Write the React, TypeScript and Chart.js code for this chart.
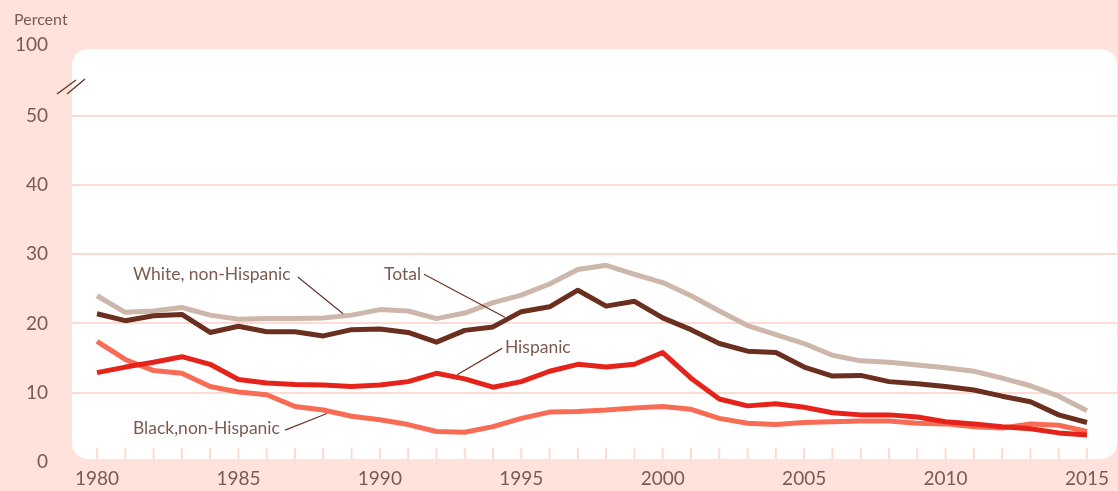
import React, { useEffect, useRef } from "react";
import { Chart, registerables } from "chart.js";

Chart.register(...registerables);

const years = [
  1980, 1981, 1982, 1983, 1984, 1985, 1986, 1987, 1988, 1989, 1990, 1991,
  1992, 1993, 1994, 1995, 1996, 1997, 1998, 1999, 2000, 2001, 2002, 2003,
  2004, 2005, 2006, 2007, 2008, 2009, 2010, 2011, 2012, 2013, 2014, 2015,
];

const whiteNonHispanic = [
  24.0, 21.6, 21.8, 22.3, 21.2, 20.6, 20.7, 20.7, 20.8, 21.2, 22.0, 21.8,
  20.7, 21.5, 23.0, 24.1, 25.7, 27.8, 28.4, 27.1, 25.9, 24.0, 21.8, 19.7,
  18.4, 17.1, 15.4, 14.6, 14.4, 14.0, 13.6, 13.1, 12.1, 11.0, 9.5, 7.4,
];

const total = [
  21.4, 20.4, 21.1, 21.3, 18.7, 19.6, 18.8, 18.8, 18.2, 19.1, 19.2, 18.7,
  17.3, 19.0, 19.5, 21.7, 22.4, 24.8, 22.5, 23.2, 20.8, 19.1, 17.1, 16.0,
  15.8, 13.7, 12.4, 12.5, 11.6, 11.3, 10.9, 10.4, 9.5, 8.7, 6.8, 5.7,
];

const hispanic = [
  12.9, 13.7, 14.4, 15.2, 14.1, 11.9, 11.4, 11.2, 11.1, 10.9, 11.1, 11.6,
  12.8, 12.0, 10.8, 11.6, 13.1, 14.1, 13.7, 14.1, 15.8, 12.1, 9.1, 8.1,
  8.4, 7.9, 7.1, 6.8, 6.8, 6.5, 5.8, 5.5, 5.1, 4.8, 4.2, 3.9,
];

const blackNonHispanic = [
  17.4, 14.8, 13.2, 12.8, 10.9, 10.1, 9.7, 8.0, 7.5, 6.6, 6.1, 5.4,
  4.4, 4.3, 5.1, 6.3, 7.2, 7.3, 7.5, 7.8, 8.0, 7.6, 6.3, 5.6,
  5.4, 5.7, 5.8, 5.9, 5.9, 5.6, 5.5, 5.1, 4.9, 5.5, 5.3, 4.4,
];

const yTicks = [0, 10, 20, 30, 40, 50, 60.2];
const yTickLabels = ["0", "10", "20", "30", "40", "50", "100"];
const xLabelYears = [1980, 1985, 1990, 1995, 2000, 2005, 2010, 2015];

// annotation labels: [text, textYear, textValue, lineFromYear, lineFromValue, lineToYear, lineToValue]
const annotations: [string, number, number, number, number, number, number][] = [
  ["White, non-Hispanic", 1981.27, 27.1, 1987.1, 26.7, 1988.7, 21.4],
  ["Total", 1990.15, 27.1, 1991.56, 27.1, 1994.42, 20.9],
  ["Hispanic", 1994.42, 16.5, 1994.32, 16.4, 1992.73, 12.6],
  ["Black,non-Hispanic", 1981.27, 4.9, 1986.65, 4.6, 1988.13, 7.0],
];

const PINK = "#fee2db";
const GRID = "#fddbd2";
const TEXT = "#7d5a50";
const LEADER = "#6b3426";
const FONT = "Lato, 'Open Sans', sans-serif";

export default function App() {
  const ref = useRef<HTMLCanvasElement | null>(null);

  useEffect(() => {
    if (!ref.current) return;
    const decor = {
      id: "decor",
      beforeDraw(chart: any) {
        const { ctx, chartArea, scales } = chart;
        ctx.save();
        ctx.fillStyle = PINK;
        ctx.fillRect(0, 0, chart.width, chart.height);
        const top = scales.y.getPixelForValue(59.6);
        ctx.fillStyle = "#ffffff";
        ctx.beginPath();
        (ctx as any).roundRect(
          chartArea.left,
          top,
          chartArea.right - chartArea.left,
          chartArea.bottom - top,
          16
        );
        ctx.fill();
        ctx.restore();
      },
      beforeDatasetsDraw(chart: any) {
        const { ctx, chartArea, scales } = chart;
        ctx.save();
        ctx.strokeStyle = GRID;
        ctx.lineWidth = 2;
        years.forEach((yr) => {
          const x = scales.x.getPixelForValue(yr);
          ctx.beginPath();
          ctx.moveTo(x, chartArea.bottom - 11);
          ctx.lineTo(x, chartArea.bottom);
          ctx.stroke();
        });
        ctx.restore();
      },
      afterDatasetsDraw(chart: any) {
        const { ctx, chartArea, scales } = chart;
        ctx.save();
        // axis title
        ctx.fillStyle = TEXT;
        ctx.font = `16px ${FONT}`;
        ctx.textBaseline = "middle";
        ctx.textAlign = "left";
        ctx.fillText("Percent", 14, 20);
        // break marks
        const l = chartArea.left;
        ctx.strokeStyle = LEADER;
        ctx.lineWidth = 1.4;
        ctx.beginPath();
        ctx.moveTo(l - 15, 94);
        ctx.lineTo(l + 4, 80);
        ctx.moveTo(l - 5, 94);
        ctx.lineTo(l + 13, 79);
        ctx.stroke();
        // annotations
        ctx.font = `17.5px ${FONT}`;
        annotations.forEach(([t, tx, ty, x1, y1, x2, y2]) => {
          ctx.fillStyle = TEXT;
          ctx.fillText(t, scales.x.getPixelForValue(tx), scales.y.getPixelForValue(ty));
          ctx.strokeStyle = LEADER;
          ctx.lineWidth = 1.2;
          ctx.beginPath();
          ctx.moveTo(scales.x.getPixelForValue(x1), scales.y.getPixelForValue(y1));
          ctx.lineTo(scales.x.getPixelForValue(x2), scales.y.getPixelForValue(y2));
          ctx.stroke();
        });
        ctx.restore();
      },
    };

    const mk = (label: string, data: number[], color: string) => ({
      label,
      data: data.map((v, i) => ({ x: years[i], y: v })),
      borderColor: color,
      backgroundColor: color,
      borderWidth: 5,
      pointRadius: 0,
      tension: 0,
      fill: false,
      borderJoinStyle: "round" as const,
    });

    const chart = new Chart(ref.current, {
      type: "line",
      data: {
        datasets: [
          mk("Hispanic", hispanic, "#e5231b"),
          mk("Black, non-Hispanic", blackNonHispanic, "#f86b55"),
          mk("Total", total, "#6a2f1e"),
          mk("White, non-Hispanic", whiteNonHispanic, "#cdb6aa"),
        ],
      },
      options: {
        animation: false,
        responsive: false,
        maintainAspectRatio: false,
        layout: { padding: { top: 45, left: 0, right: 1, bottom: 0 } },
        plugins: {
          legend: { display: false },
          tooltip: { enabled: false },
        },
        scales: {
          x: {
            type: "linear",
            min: 1979.116,
            max: 2016.06,
            afterBuildTicks: (scale: any) => {
              scale.ticks = years.map((v) => ({ value: v }));
            },
            afterFit: (scale: any) => {
              scale.height = 32;
              scale.paddingLeft = 0;
              scale.paddingRight = 0;
            },
            grid: { display: false, drawTicks: false },
            border: { display: false },
            ticks: {
              autoSkip: false,
              maxRotation: 0,
              padding: 8,
              color: TEXT,
              font: { family: FONT, size: 19 },
              callback: (v: any) => (xLabelYears.includes(Number(v)) ? String(v) : ""),
            },
          },
          y: {
            type: "linear",
            min: 0.43,
            max: 60.2,
            afterBuildTicks: (scale: any) => {
              scale.ticks = yTicks.map((v) => ({ value: v }));
            },
            afterFit: (scale: any) => {
              scale.width = 72;
              scale.paddingTop = 0;
              scale.paddingBottom = 0;
            },
            grid: {
              drawTicks: false,
              lineWidth: 2,
              color: (c: any) =>
                c.tick && (c.tick.value === 0 || c.tick.value > 55) ? "rgba(0,0,0,0)" : GRID,
            },
            border: { display: false },
            ticks: {
              padding: 24,
              color: TEXT,
              font: { family: FONT, size: 19 },
              callback: (v: any) => {
                const i = yTicks.indexOf(Number(v));
                return i >= 0 ? yTickLabels[i] : "";
              },
            },
          },
        },
      },
      plugins: [decor],
    });
    return () => chart.destroy();
  }, []);

  return (
    <div style={{ position: "fixed", left: 0, top: 0, width: 1118, height: 491, background: PINK }}>
      <canvas ref={ref} width={1118} height={491} style={{ width: 1118, height: 491, display: "block" }} />
    </div>
  );
}
